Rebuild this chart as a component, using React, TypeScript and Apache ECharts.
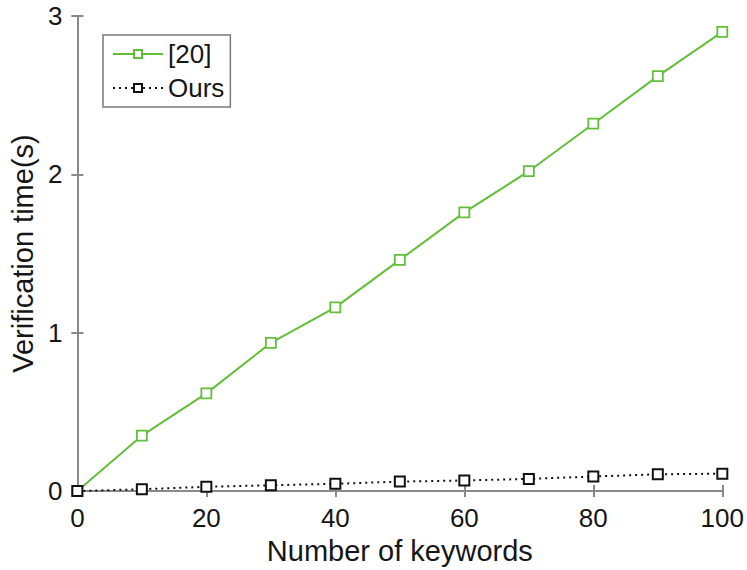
import React, { useEffect, useRef } from "react";
import * as echarts from "echarts";

const keywords = [0, 10, 20, 30, 40, 50, 60, 70, 80, 90, 100];
const ref20 = [0, 0.35, 0.617, 0.936, 1.16, 1.46, 1.76, 2.02, 2.32, 2.62, 2.9];
const ours = [0, 0.012, 0.027, 0.037, 0.046, 0.06, 0.067, 0.077, 0.092, 0.106, 0.11];
const xTicks = [0, 20, 40, 60, 80, 100];
const yTicks = [0, 1, 2, 3];

const FONT = "'Liberation Sans', Arial, sans-serif";
const AXIS_COLOR = "#8a8a8a";
const GREEN = "#62bf3a";
const TEXT = "#161616";

export default function App() {
  const ref = useRef<HTMLDivElement>(null);
  useEffect(() => {
    if (!ref.current) return;
    const chart = echarts.init(ref.current, undefined, { renderer: "svg" });
    const axisLine = { show: true, lineStyle: { color: AXIS_COLOR, width: 2 } };
    const axisTick = { show: true, inside: true, length: 6, lineStyle: { color: AXIS_COLOR, width: 2 } };
    const axisLabel = { color: TEXT, fontSize: 26, fontFamily: FONT };
    chart.setOption({
      animation: false,
      backgroundColor: "#fff",
      grid: { left: 73, right: 21, top: 16, bottom: 78, containLabel: false },
      legend: {
        orient: "vertical",
        left: 103,
        top: 35,
        padding: [6, 6, 6, 9],
        borderColor: "#7a7a7a",
        borderWidth: 1.5,
        backgroundColor: "#fff",
        itemWidth: 50,
        itemHeight: 10,
        itemGap: 8,
        textStyle: { fontSize: 26, fontFamily: FONT, color: TEXT },
        data: ["[20]", "Ours"],
      },
      xAxis: [
        {
          type: "value",
          min: 0,
          max: 100,
          interval: 20,
          position: "bottom",
          axisLine,
          axisTick,
          splitLine: { show: false },
          axisLabel: { ...axisLabel, margin: 14, customValues: xTicks },
          name: "Number of keywords",
          nameLocation: "middle",
          nameGap: 45,
          nameTextStyle: { fontSize: 29, fontFamily: FONT, color: TEXT, lineHeight: 24 },
        },
        {
          type: "value",
          min: 0,
          max: 100,
          interval: 20,
          position: "top",
          axisLine,
          axisTick,
          splitLine: { show: false },
          axisLabel: { show: false },
        },
      ],
      yAxis: [
        {
          type: "value",
          min: 0,
          max: 3,
          interval: 1,
          position: "left",
          axisLine,
          axisTick,
          splitLine: { show: false },
          axisLabel: { ...axisLabel, margin: 15, lineHeight: 20, customValues: yTicks },
          name: "Verification time(s)",
          nameLocation: "middle",
          nameGap: 37,
          nameTextStyle: { fontSize: 29, fontFamily: FONT, color: TEXT },
        },
        {
          type: "value",
          min: 0,
          max: 3,
          interval: 1,
          position: "right",
          axisLine,
          axisTick,
          splitLine: { show: false },
          axisLabel: { show: false },
        },
      ],
      series: [
        {
          name: "[20]",
          type: "line",
          data: keywords.map((k, i) => [k, ref20[i]]),
          symbol: "rect",
          symbolSize: 10,
          itemStyle: { color: "#fff", borderColor: GREEN, borderWidth: 1.8 },
          lineStyle: { color: GREEN, width: 2 },
          color: GREEN,
          z: 3,
        },
        {
          name: "Ours",
          type: "line",
          data: keywords.map((k, i) => [k, ours[i]]),
          symbol: "rect",
          symbolSize: 10,
          itemStyle: { color: "#fff", borderColor: "#111", borderWidth: 2 },
          lineStyle: { color: "#111", width: 2, type: [2, 4] },
          color: "#111",
          z: 4,
        },
      ],
    });
    return () => chart.dispose();
  }, []);
  return <div ref={ref} style={{ width: 747, height: 570, position: "absolute", left: 0, top: 0 }} />;
}
